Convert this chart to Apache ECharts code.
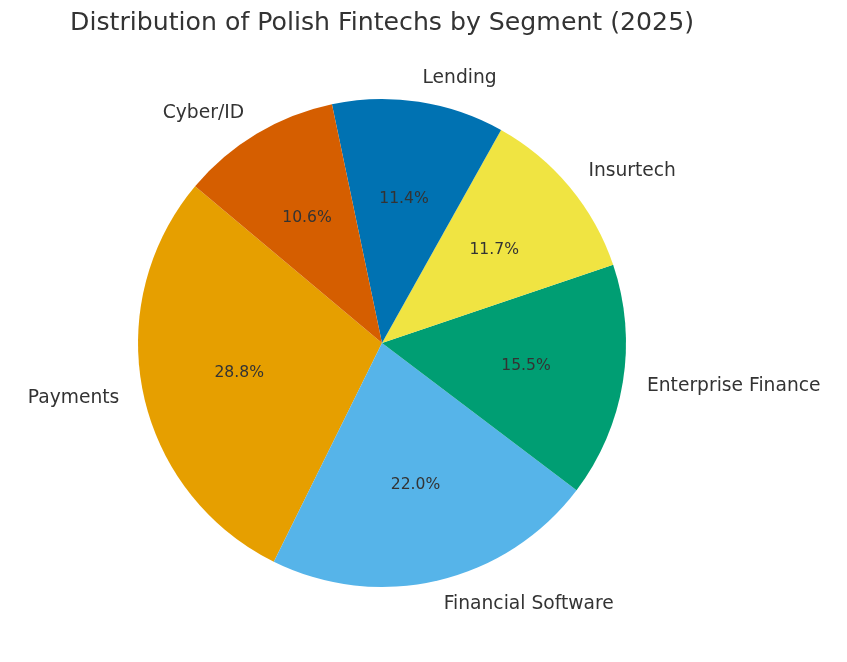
<!DOCTYPE html>
<html>
<head>
<meta charset="utf-8">
<script src="https://cdn.jsdelivr.net/npm/echarts@6/dist/echarts.min.js"></script>
<style>html,body{margin:0;padding:0;background:#fff;}#c{width:847px;height:662px;}</style>
</head>
<body>
<div id="c"></div>
<script>
const categories = ["Payments", "Financial Software", "Enterprise Finance", "Insurtech", "Lending", "Cyber/ID"];
const values = [28.8, 22.0, 15.5, 11.7, 11.4, 10.6];
const colors = ["#E69F00", "#56B4E9", "#009E73", "#F0E442", "#0072B2", "#D55E00"];
const titleText = "Distribution of Polish Fintechs by Segment (2025)";

const font = "DejaVu Sans";
const R = 244;
const center = [382, 343];
const data = categories.map((c, i) => ({ name: c, value: values[i], itemStyle: { color: colors[i] } }));

const chart = echarts.init(document.getElementById('c'), null, { renderer: 'canvas' });
chart.setOption({
  animation: false,
  title: {
    text: titleText, left: 377, top: 6, textAlign: 'center',
    textStyle: { fontFamily: font, fontSize: 25.2, fontWeight: 'normal', color: '#333333' }
  },
  series: [
    {
      type: 'pie', center: center, radius: [0, R], startAngle: 140, clockwise: false,
      avoidLabelOverlap: false, silent: true,
      data: data,
      itemStyle: { borderWidth: 0 },
      label: { show: true, position: 'outside', distanceToLabelLine: 0, fontFamily: font, fontSize: 18.7, color: '#333333', formatter: '{b}' },
      labelLine: { show: false, length: R * 0.1, length2: 0 }
    },
    {
      type: 'pie', center: center, radius: [R * 0.2 - 7, R], startAngle: 140, clockwise: false,
      avoidLabelOverlap: false, silent: true,
      data: categories.map((c, i) => ({ name: c, value: values[i] })),
      itemStyle: { color: 'rgba(0,0,0,0)', borderWidth: 0 },
      label: { show: true, position: 'inside', fontFamily: font, fontSize: 15.6, color: '#333333',
        formatter: p => p.value.toFixed(1) + '%' },
      labelLine: { show: false }
    }
  ]
});
</script>
</body>
</html>
